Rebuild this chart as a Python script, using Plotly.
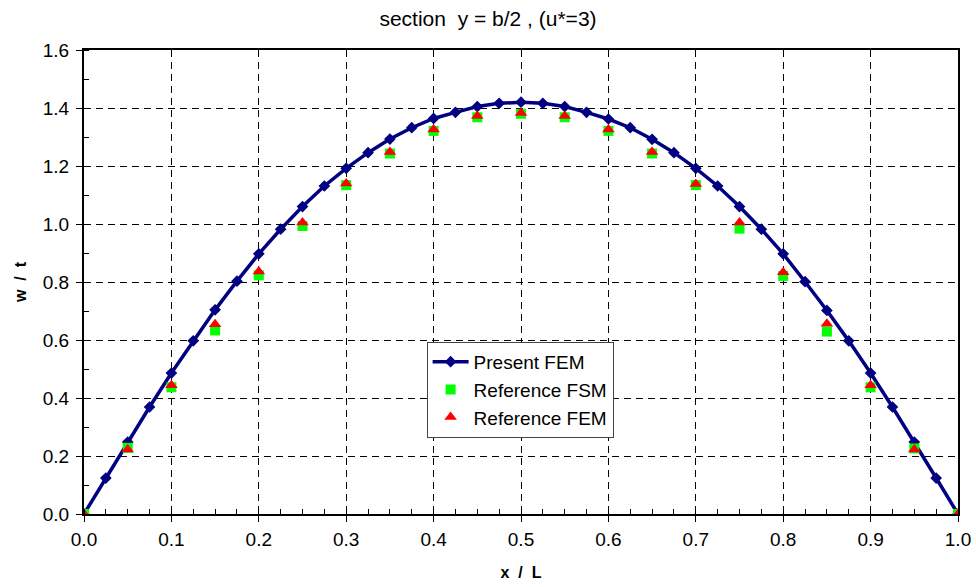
import plotly.graph_objects as go

# Present FEM (every 0.025)
x_fem = [0.0, 0.025, 0.05, 0.075, 0.1, 0.125, 0.15, 0.175, 0.2, 0.225, 0.25, 0.275, 0.3, 0.325,
         0.35, 0.375, 0.4, 0.425, 0.45, 0.475, 0.5, 0.525, 0.55, 0.575, 0.6, 0.625, 0.65, 0.675,
         0.7, 0.725, 0.75, 0.775, 0.8, 0.825, 0.85, 0.875, 0.9, 0.925, 0.95, 0.975, 1.0]
w_fem = [0.0, 0.124, 0.248, 0.369, 0.486, 0.597, 0.704, 0.803, 0.897, 0.982, 1.06, 1.131, 1.192, 1.246,
         1.293, 1.332, 1.364, 1.385, 1.405, 1.416, 1.42, 1.416, 1.405, 1.385, 1.362, 1.332, 1.292, 1.246,
         1.192, 1.131, 1.06, 0.982, 0.897, 0.801, 0.702, 0.597, 0.486, 0.369, 0.248, 0.124, 0.0]

# Reference points (every 0.05)
x_ref = [0.0, 0.05, 0.1, 0.15, 0.2, 0.25, 0.3, 0.35, 0.4, 0.45, 0.5,
         0.55, 0.6, 0.65, 0.7, 0.75, 0.8, 0.85, 0.9, 0.95, 1.0]
w_fsm = [0.0, 0.228, 0.437, 0.633, 0.823, 0.993, 1.134, 1.243, 1.321, 1.368, 1.38,
         1.368, 1.321, 1.243, 1.134, 0.984, 0.821, 0.629, 0.437, 0.226, 0.0]
w_ref_fem = [0.0, 0.222, 0.444, 0.654, 0.836, 1.005, 1.14, 1.248, 1.326, 1.372, 1.383,
             1.372, 1.326, 1.248, 1.138, 1.005, 0.834, 0.656, 0.444, 0.222, 0.0]

FONT = "Arial, Liberation Sans, sans-serif"
GRIDDASH = "7px,5px"

fig = go.Figure()
fig.add_trace(go.Scatter(
    x=x_fem, y=w_fem, mode="lines+markers", name="Present FEM",
    line=dict(color="#000080", width=3.5),
    marker=dict(symbol="diamond", size=9, color="#000080"),
))
fig.add_trace(go.Scatter(
    x=x_ref, y=w_fsm, mode="markers", name="Reference FSM",
    marker=dict(symbol="square", size=10, color="#00FF00"),
))
fig.add_trace(go.Scatter(
    x=x_ref, y=w_ref_fem, mode="markers", name="Reference FEM",
    marker=dict(symbol="triangle-up", size=11, color="#FF0000"),
))

fig.update_layout(
    width=976, height=587,
    margin=dict(l=84, r=18, t=50, b=73),
    paper_bgcolor="white", plot_bgcolor="white",
    font=dict(family=FONT, size=19, color="black"),
    title=dict(text="section  y = b/2 , (u*=3)", x=0.5, xref="container", xanchor="center",
               y=1 - 19 / 587, yanchor="middle", font=dict(size=21)),
    showlegend=True,
    legend=dict(x=0.392, y=0.371, xanchor="left", yanchor="top",
                bgcolor="white", bordercolor="#444444", borderwidth=1,
                itemwidth=36,
                font=dict(size=19), tracegroupgap=0),
)

fig.update_xaxes(
    range=[0, 1.0], dtick=0.1, tick0=0, tickformat=".1f", automargin=False,
    showline=True, linecolor="black", linewidth=2, mirror=True,
    ticks="outside", ticklen=6, tickcolor="black", ticklabelstandoff=1,
    showgrid=True, gridcolor="black", griddash=GRIDDASH, gridwidth=1,
    zeroline=False,
    minor=dict(dtick=0.025, ticks="inside", ticklen=5, tickcolor="black", showgrid=False),
    title=dict(text="<b>x  /  L</b>", font=dict(size=16), standoff=18),
)
fig.update_yaxes(
    range=[0, 1.6], dtick=0.2, tick0=0, tickformat=".1f", automargin=False,
    showline=True, linecolor="black", linewidth=2, mirror=True,
    ticks="outside", ticklen=6, tickcolor="black", ticklabelstandoff=3,
    showgrid=True, gridcolor="black", griddash=GRIDDASH, gridwidth=1,
    zeroline=False,
    minor=dict(dtick=0.1, ticks="inside", ticklen=5, tickcolor="black", showgrid=False),
    title=dict(text="<b>w  /  t</b>", font=dict(size=16), standoff=12),
)

fig.write_html("out.html")
